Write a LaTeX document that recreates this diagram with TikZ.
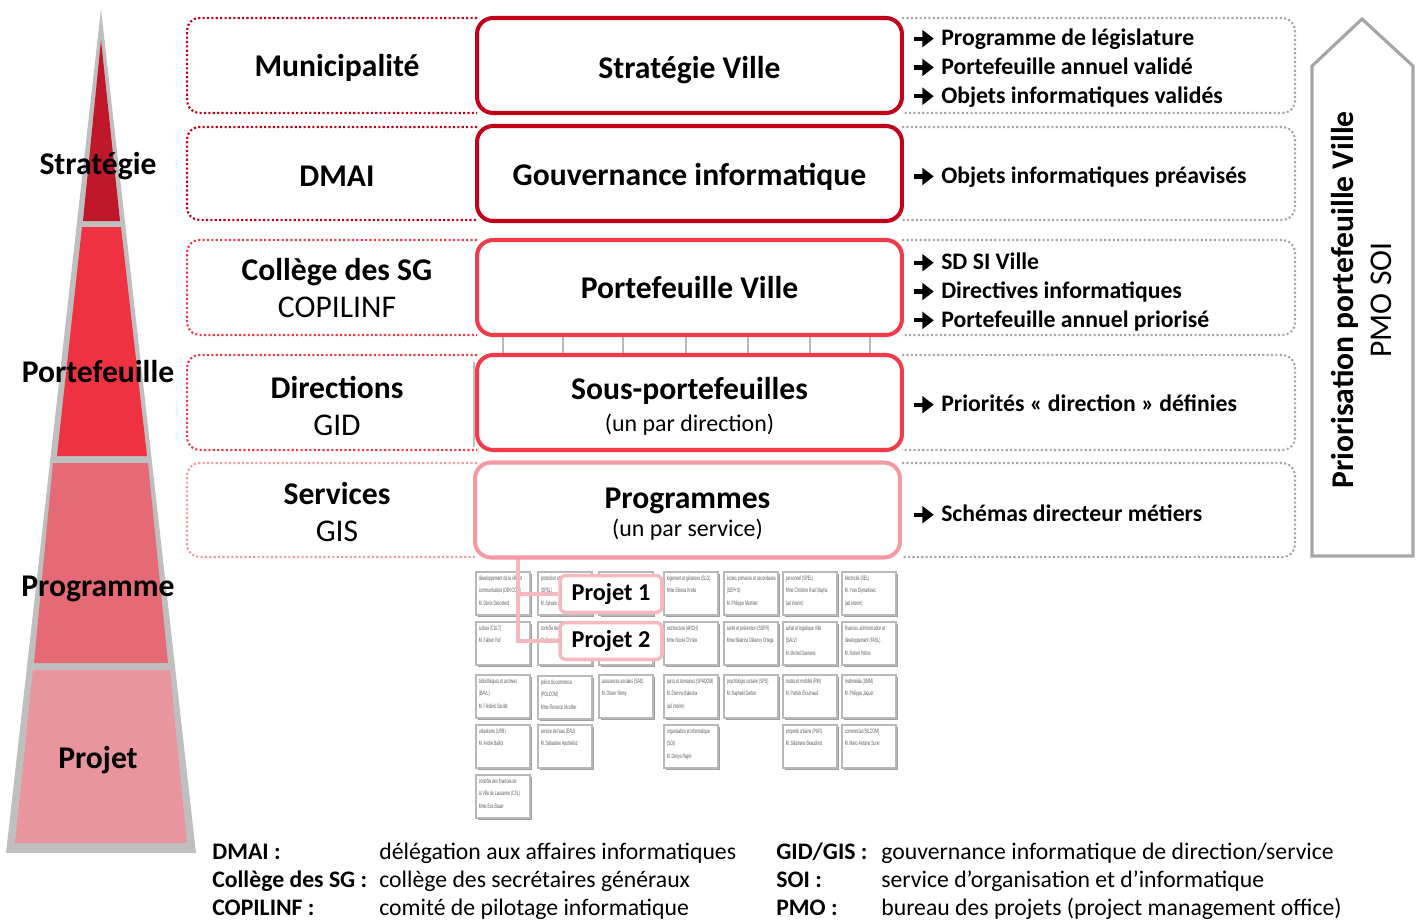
\documentclass[tikz,border=0pt]{standalone}
\usepackage{fontspec}
\usetikzlibrary{arrows.meta}
\setmainfont{Carlito}
\newfontfamily\cellfont[FakeStretch=0.55]{Liberation Sans}

\definecolor{darkbox}{HTML}{C2001A}
\definecolor{midred}{HTML}{F23A4B}
\definecolor{lightbox}{HTML}{F39AA3}
\definecolor{framegray}{HTML}{A6A6A6}
\definecolor{pyrgray}{HTML}{BFBFBF}
\definecolor{stratcol}{HTML}{C0172B}
\definecolor{portcol}{HTML}{EE3242}
\definecolor{progcol}{HTML}{E66A76}
\definecolor{projcol}{HTML}{E9959E}
\definecolor{projpink}{HTML}{F6B9BF}

% heavy arrow in front of each result
\newcommand{\resarrow}{\tikz[baseline=-0.6ex]\draw[line width=2.4pt,
  -{Triangle[length=6.5pt,width=9.5pt]}] (0,0) -- (11pt,0);}

\begin{document}
\begin{tikzpicture}[x=0.02cm, y=-0.02cm,
  midbox/.style={draw, rounded corners=0.32cm, line width=2.3pt, fill=white,
    minimum width=8.5cm, minimum height=1.9cm, align=center,
    font=\fontsize{18}{21}\selectfont\bfseries},
  sidelabel/.style={align=center, font=\fontsize{18}{21}\selectfont},
  outtext/.style={anchor=west, align=left, inner sep=0pt,
    font=\fontsize{13.5}{16.4}\selectfont\bfseries},
  lvlname/.style={font=\fontsize{18}{21}\selectfont\bfseries},
  leftframe/.style={rounded corners=0.25cm, line width=1.2pt,
    dash pattern=on 1.2pt off 1.3pt},
  rightframe/.style={leftframe, draw=framegray},
  cellbox/.style={draw=gray!55, line width=0.6pt, fill=white},
  celltext/.style={anchor=north west, inner sep=0pt, align=left,
    text=gray!70!black, font=\cellfont\fontsize{3.6}{7}\selectfont},
  projbox/.style={draw=projpink, line width=2pt, rounded corners=0.12cm,
    fill=white, minimum width=2.04cm, minimum height=0.74cm,
    font=\fontsize{13.8}{16}\selectfont\bfseries},
  projline/.style={draw=projpink, line width=1.8pt},
  legterm/.style={anchor=base west, inner sep=0pt,
    font=\fontsize{13.5}{15}\selectfont\bfseries},
  legdesc/.style={anchor=base west, inner sep=0pt,
    font=\fontsize{13.5}{15}\selectfont}
]
\useasboundingbox (0,0) rectangle (1418,920);

% pyramid
\fill[pyrgray] (101,9) -- (196,853) -- (6,853) -- cycle;
\fill[stratcol] (101,40) -- (120,221) -- (83,221) -- cycle;
\fill[portcol] (82,227) -- (121,227) -- (147,456) -- (57,456) -- cycle;
\fill[progcol] (53,463) -- (148,463) -- (168,663) -- (34,663) -- cycle;
\fill[projcol] (33,670) -- (170,670) -- (187,843) -- (15,843) -- cycle;

\node[lvlname] (lv-strat) at (98,166) {Stratégie};
\node[lvlname] (lv-portf) at (98,372) {Portefeuille};
\node[lvlname] (lv-prog) at (98,589) {Programme};
\node[lvlname] (lv-proj) at (98,760) {Projet};

% org chart of the services
\foreach \xa/\ya/\txt in {
  476/572/{développement de la ville et\\communication (DEVCOM)\\M. Denis Décosterd},
  538/572/{protection et sauvetage\\(SPSL)\\M. Sylvain Jaquenoud},
  599/572/{},
  664/572/{logement et gérances (SLG)\\Mme Elinora Krebs},
  724/572/{écoles primaires et secondaires\\(SEP+S)\\M. Philippe Martinet},
  783/572/{personnel (SPEL)\\Mme Christine Ruef Bayha\\(ad interim)},
  842/572/{électricité (SEL)\\M. Yves Dijmarkovic\\(ad interim)},
  476/622/{culture (CULT)\\M. Fabien Ruf},
  538/622/{contrôle des habitants\\M. Dominique},
  599/622/{},
  664/622/{architecture (ARCH)\\Mme Nicole Christe},
  724/622/{santé et prévention (SSPR)\\Mme Béatrice Délanoy Ortega},
  783/622/{achat et logistique Ville\\(SALV)\\M. Michel Daenens},
  842/622/{finances, administration et\\développement (FASL)\\M. Robert Peloni},
  476/675/{bibliothèques et archives\\(BAVL)\\M. Frédéric Sardet},
  538/676/{police du commerce\\(POLCOM)\\Mme Florence Nicollier},
  599/675/{assurances sociales (SAS)\\M. Olivier Rémy},
  664/675/{parcs et domaines (SPADOM)\\M. Étienne Balestra\\(ad interim)},
  724/675/{psychologie scolaire (SPS)\\M. Raphaël Gerber},
  783/675/{routes et mobilité (RM)\\M. Patrick Étournaud},
  842/675/{multimédia (SMM)\\M. Philippe Jaquet},
  476/725/{urbanisme (URB)\\M. André Baillot},
  538/725/{service de l'eau (EAU)\\M. Sébastien Apothéloz},
  664/725/{organisation et informatique\\(SOI)\\M. Denys Rapin},
  783/725/{propreté urbaine (PUR)\\M. Stéphane Beaudinot},
  842/725/{commercial (SILCOM)\\M. Marc-Antoine Surer},
  476/775/{contrôle des finances de\\la Ville de Lausanne (CFL)\\Mme Eva Bauer}} {
  \fill[gray!75] (\xa+2,\ya+2) rectangle ++(54,43);
  \draw[cellbox] (\xa,\ya) rectangle ++(54,43);
  \node[celltext] (cell-\xa-\ya) at (\xa+2.5,\ya+3.5) {\txt};
}

% stubs of the chart between the boxes
\foreach \a/\b in {503/563, 563/623, 623/686, 686/748, 748/810, 810/870}
  \draw[cellbox] (\a,334) rectangle (\b,356);
\draw[gray!50, line width=0.6pt] (474,362) -- (474,447);

% projects
\coordinate (fork) at (518,557);
\node[projbox] (proj1) at (611,594) {Projet 1};
\node[projbox] (proj2) at (611,641) {Projet 2};
\draw[projline] (fork) |- (proj2.west);
\draw[projline] (fork |- proj1.west) -- (proj1.west);

% dotted frames of the rows
\foreach \top/\bot/\col in {18/113/darkbox, 127/220/darkbox,
    240/335/midred, 355/450/midred, 463/557/lightbox} {
  \draw[leftframe, draw=\col] (477,\top) -| (187,\bot) -- (477,\bot);
  \draw[rightframe] (902,\top) -| (1295,\bot) -- (902,\bot);
}

% central boxes
\node[midbox, draw=darkbox] (strat) at (689.5,65.5)
  {\rule{0pt}{18pt}Stratégie Ville};
\node[midbox, draw=darkbox] (gouv) at (689.5,173.5)
  {\rule{0pt}{17pt}Gouvernance informatique};
\node[midbox, draw=midred] (portf) at (689.5,287.5) {Portefeuille Ville};
\node[midbox, draw=midred] (sousp) at (689.5,402.5)
  {\rule{0pt}{17pt}Sous-portefeuilles\\[-2.8pt]{\fontsize{13.6}{15}\selectfont\mdseries
   (un par direction)}};
\node[midbox, draw=lightbox] (prog) at (687.5,510)
  {\rule{0pt}{16.2pt}Programmes\\[-5.1pt]{\fontsize{13.6}{15}\selectfont\mdseries
   (un par service)}};

% actors
\node[sidelabel, font=\fontsize{18}{21}\selectfont\bfseries] (muni) at (337,68) {Municipalité};
\node[sidelabel, font=\fontsize{18}{21}\selectfont\bfseries] (dmai) at (337,176) {DMAI};
\node[sidelabel] (college) at (337,288) {\textbf{Collège des SG}\\COPILINF};
\node[sidelabel] (direct) at (337,406) {\textbf{Directions}\\GID};
\node[sidelabel] (serv) at (337,512) {\textbf{Services}\\GIS};

% results
\node[outtext] (out-strat) at (912,68) {\resarrow\ Programme de législature\\
  \resarrow\ Portefeuille annuel validé\\\resarrow\ Objets informatiques validés};
\node[outtext] (out-gouv) at (912,177) {\resarrow\ Objets informatiques préavisés};
\node[outtext] (out-portf) at (912,292) {\resarrow\ SD SI Ville\\
  \resarrow\ Directives informatiques\\\resarrow\ Portefeuille annuel priorisé};
\node[outtext] (out-sousp) at (912,404) {\resarrow\ Priorités « direction » définies};
\node[outtext] (out-prog) at (912,514) {\resarrow\ Schémas directeur métiers};

% priorisation arrow
\draw[framegray, line width=1.8pt] (1312,556) -- (1312,66) -- (1362,19)
  -- (1413,66) -- (1413,556) -- cycle;
\node[rotate=90, font=\fontsize{18}{20}\selectfont\bfseries] (prio) at (1345,300)
  {Priorisation portefeuille Ville};
\node[rotate=90, font=\fontsize{18}{20}\selectfont] (pmo) at (1381,300) {PMO SOI};

% legend
\node[legterm] (t-dmai) at (212,859) {DMAI :};
\node[legdesc] (d-dmai) at (379,859) {délégation aux affaires informatiques};
\node[legterm] (t-sg) at (212,887) {Collège des SG :};
\node[legdesc] (d-sg) at (379,887) {collège des secrétaires généraux};
\node[legterm] (t-copil) at (212,915) {COPILINF :};
\node[legdesc] (d-copil) at (379,915) {comité de pilotage informatique};
\node[legterm] (t-gid) at (776,859) {GID/GIS :};
\node[legdesc] (d-gid) at (881,859) {gouvernance informatique de direction/service};
\node[legterm] (t-soi) at (776,887) {SOI :};
\node[legdesc] (d-soi) at (881,887) {service d’organisation et d’informatique};
\node[legterm] (t-pmo) at (776,915) {PMO :};
\node[legdesc] (d-pmo) at (881,915) {bureau des projets (project management office)};

\end{tikzpicture}
\end{document}
